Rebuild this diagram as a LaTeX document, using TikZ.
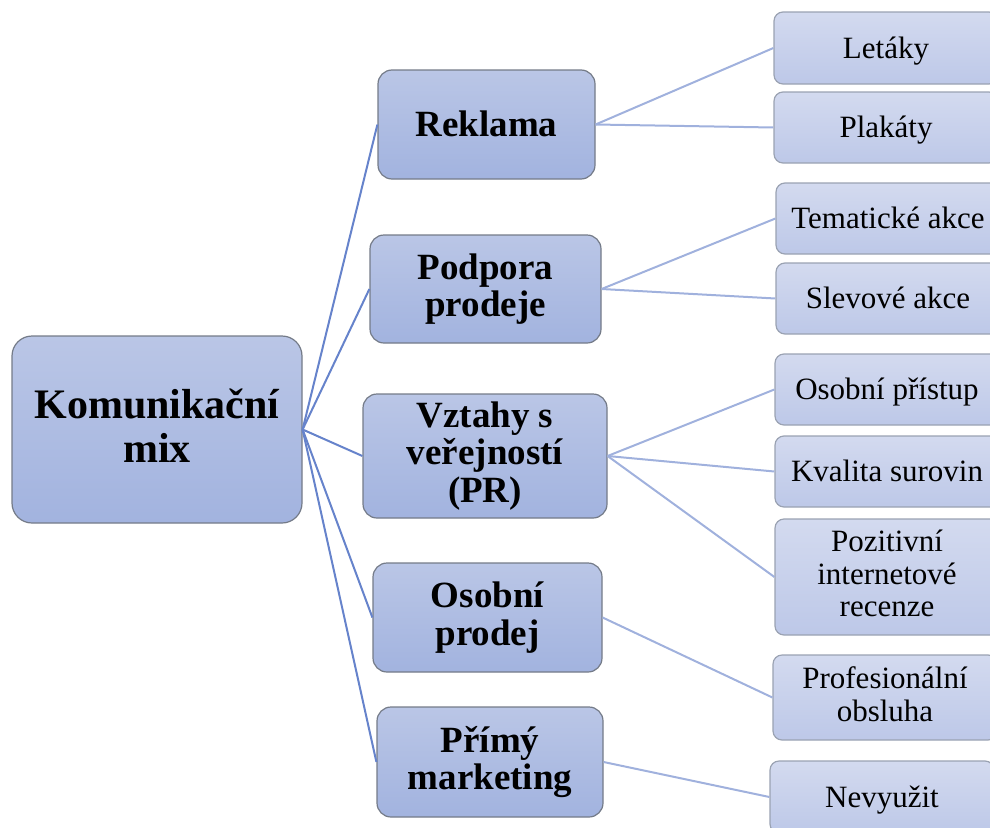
\documentclass[tikz,border=0pt]{standalone}
\usepackage{fontspec}
\setmainfont{Liberation Serif}
\begin{document}
\begin{tikzpicture}[x=1pt,y=-1pt,
  rootbox/.style={draw=rootedge, line width=1.2pt, rounded corners=20pt,
    top color=midtop, bottom color=midbot, align=center, inner sep=0pt,
    font=\fontsize{42}{44}\selectfont\bfseries,
    execute at begin node={\rule{0pt}{30pt}},
    execute at end node={\rule[-7pt]{0pt}{7pt}}},
  midbox/.style={draw=rootedge, line width=1.2pt, rounded corners=14pt,
    top color=midtop, bottom color=midbot, align=center, inner sep=0pt,
    font=\fontsize{37}{37.5}\selectfont\bfseries,
    execute at begin node={\rule{0pt}{32pt}},
    execute at end node={\rule[-8pt]{0pt}{8pt}}},
  leafbox/.style={draw=leafedge, line width=1.2pt, rounded corners=9pt,
    top color=leaftop, bottom color=leafbot, align=center, inner sep=0pt,
    minimum width=224pt, font=\fontsize{31}{32.5}\selectfont,
    execute at begin node={\rule{0pt}{27pt}},
    execute at end node={\rule[-7pt]{0pt}{7pt}}},
  trunk/.style={draw=trunkcol, line width=2pt},
  twig/.style={draw=twigcol, line width=2pt}]
\definecolor{midtop}{HTML}{BAC6E6}
\definecolor{midbot}{HTML}{A2B3DF}
\definecolor{leaftop}{HTML}{D3DAEF}
\definecolor{leafbot}{HTML}{BDC8E8}
\definecolor{rootedge}{HTML}{747B88}
\definecolor{leafedge}{HTML}{9AA2B2}
\definecolor{trunkcol}{HTML}{6683CB}
\definecolor{twigcol}{HTML}{A0B1DD}

\useasboundingbox (0,0) rectangle (990,827);
\clip (0,0) rectangle (990,827);

% root
\node[rootbox, minimum width=290pt, minimum height=187pt] (root) at (157,429.5)
  {Komunikační\\mix};

% second level
\node[midbox, minimum width=217pt, minimum height=109pt] (rek) at (486.5,124.5) {Reklama};
\node[midbox, minimum width=231pt, minimum height=108pt] (pod) at (485.5,289) {Podpora\\prodeje};
\node[midbox, minimum width=244pt, minimum height=124pt] (vzt) at (485,456) {Vztahy s\\veřejností\\(PR)};
\node[midbox, minimum width=229pt, minimum height=109pt] (osp) at (487.5,617.5) {Osobní\\prodej};
\node[midbox, minimum width=226pt, minimum height=110pt] (pri) at (490,762) {Přímý\\marketing};

% leaves
\node[leafbox, minimum height=72pt] (let) at (886,48) {Letáky};
\node[leafbox, minimum height=71pt] (pla) at (886,127.5) {Plakáty};
\node[leafbox, minimum height=71pt] (tem) at (888,218.5) {Tematické akce};
\node[leafbox, minimum height=71pt] (sle) at (888,298.5) {Slevové akce};
\node[leafbox, minimum height=71pt] (opr) at (887,389.5) {Osobní přístup};
\node[leafbox, minimum height=71pt] (kva) at (887,471.5) {Kvalita surovin};
\node[leafbox, minimum height=116pt] (poz) at (887,577) {Pozitivní\\internetové\\recenze};
\node[leafbox, minimum height=85pt] (pro) at (885,697.5) {Profesionální\\obsluha};
\node[leafbox, minimum height=72pt] (nev) at (882,797) {Nevyužit};

% connectors from the root
\foreach \m in {rek,pod,vzt,osp,pri}
  \draw[trunk] (root.east) -- (\m.west);

% connectors to the leaves
\draw[twig] (rek.east) -- (let.west);
\draw[twig] (rek.east) -- (pla.west);
\draw[twig] (pod.east) -- (tem.west);
\draw[twig] (pod.east) -- (sle.west);
\draw[twig] (vzt.east) -- (opr.west);
\draw[twig] (vzt.east) -- (kva.west);
\draw[twig] (vzt.east) -- (poz.west);
\draw[twig] (osp.east) -- (pro.west);
\draw[twig] (pri.east) -- (nev.west);
\end{tikzpicture}
\end{document}
